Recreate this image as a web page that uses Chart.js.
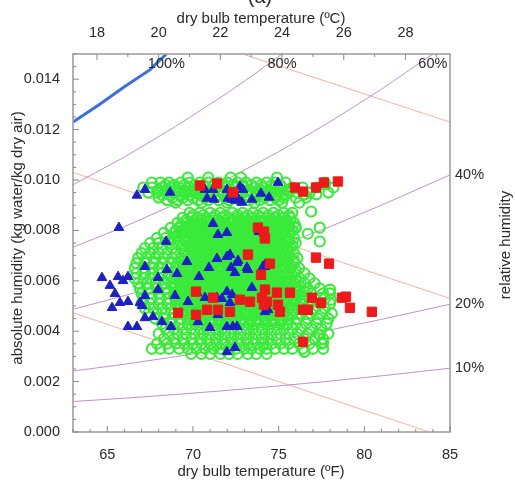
<!DOCTYPE html>
<html lang="en">
<head>
<meta charset="UTF-8">
<title>Psychrometric scatter</title>
<script src="https://cdn.jsdelivr.net/npm/chart.js"></script>
<style>
  body { margin: 0; background: #fff; }
  #wrap { width: 515px; height: 487px; position: relative; }
</style>
</head>
<body>
<div id="wrap"><canvas id="chart"></canvas></div>
<script>
// axis ticks
const fTicks = [65, 70, 75, 80, 85];
const cTicks = [18, 20, 22, 24, 26, 28];
const wTicks = [0, 0.002, 0.004, 0.006, 0.008, 0.010, 0.012, 0.014];

// relative humidity curves (dry bulb in F, humidity ratio)
const rh100T = [63, 64.5, 66, 67.5, 68.45];
const rh100W = [0.0123, 0.01298, 0.0137, 0.01438, 0.015];
const rh80T = [63, 66, 69, 72, 73.5, 75.2];
const rh80W = [0.00981, 0.01091, 0.01213, 0.01345, 0.01416, 0.015];
const rh60T = [63, 66, 69, 72, 75, 78, 81, 84];
const rh60W = [0.00733, 0.00815, 0.00905, 0.01003, 0.01112, 0.01231, 0.0136, 0.015];
const rh40T = [63, 66, 69, 72, 75, 78, 81, 85];
const rh40W = [0.00487, 0.00541, 0.006, 0.00665, 0.00737, 0.00815, 0.009, 0.0102];
const rh20T = [63, 66, 69, 72, 75, 78, 81, 85];
const rh20W = [0.00242, 0.00269, 0.00299, 0.00331, 0.00366, 0.00405, 0.00447, 0.00507];
const rh10T = [63, 66, 69, 72, 75, 78, 81, 85];
const rh10W = [0.00121, 0.00134, 0.00149, 0.00165, 0.00183, 0.00202, 0.00223, 0.00253];

// the three orange straight lines
const lineAT = [72.9, 85], lineAW = [0.015, 0.0123];
const lineBT = [63, 85], lineBW = [0.0103, 0.0053];
const lineCT = [63, 83.8], lineCW = [0.00473, 0];

// green circles, row by row (humidity of the row, temperatures along it)
const greenRowW = [0.0101, 0.0099, 0.0097, 0.0095, 0.0093, 0.0091,
  0.0087, 0.0085, 0.0083, 0.0081, 0.0079, 0.0077, 0.0075, 0.0073, 0.0071, 0.0069,
  0.0067, 0.0065, 0.0063, 0.0061, 0.0059, 0.0057, 0.0055, 0.0053, 0.0051, 0.0049,
  0.0047, 0.0045, 0.0043, 0.0041, 0.0039, 0.0037, 0.0035, 0.0033, 0.0031];
const greenRowT = [
  [69.7, 70.9, 72.2, 72.8, 74.9],
  [67.6, 68.1, 68.6, 69.3, 69.8, 70.4, 70.9, 71.5, 72.0, 72.6, 73.1, 73.7, 74.3, 74.8, 75.4, 77.7],
  [67.1, 67.6, 68.2, 68.7, 69.2, 69.8, 70.3, 70.8, 71.4, 71.9, 72.5, 73.0, 73.6, 74.1, 74.7, 75.2, 75.8, 76.4, 77.2, 78.2],
  [67.4, 67.9, 68.5, 69.0, 69.6, 70.1, 70.6, 71.2, 71.7, 72.3, 72.8, 73.4, 73.9, 74.5, 75.0, 75.6, 76.1, 76.8, 77.9],
  [68.0, 68.8, 69.4, 70.0, 70.7, 71.3, 71.9, 72.4, 73.0, 73.6, 74.2, 74.8, 75.3, 76.0, 76.6],
  [69.0, 70.5, 72.0, 73.6, 75.2, 76.2],
  [69.8, 70.4, 71.0, 71.6, 72.3, 72.9, 73.5, 74.1, 74.7, 75.3, 75.8],
  [69.4, 69.9, 70.3, 70.8, 71.2, 71.7, 72.1, 72.6, 73.0, 73.5, 73.9, 74.4, 74.8, 75.3, 75.7],
  [69.1, 69.6, 70.0, 70.5, 70.9, 71.4, 71.8, 72.3, 72.7, 73.2, 73.6, 74.1, 74.5, 75.0, 75.4, 75.9],
  [68.7, 69.2, 69.7, 70.1, 70.6, 71.0, 71.5, 71.9, 72.4, 72.8, 73.3, 73.7, 74.2, 74.6, 75.1, 75.5, 76.0],
  [68.3, 68.9, 69.4, 69.8, 70.3, 70.7, 71.2, 71.6, 72.1, 72.5, 73.0, 73.4, 73.9, 74.3, 74.8, 75.2, 75.7],
  [67.9, 68.4, 68.9, 69.5, 70.0, 70.4, 70.9, 71.3, 71.8, 72.2, 72.7, 73.1, 73.6, 74.0, 74.5, 74.9, 75.4, 75.9],
  [67.5, 68.0, 68.6, 69.1, 69.7, 70.1, 70.6, 71.0, 71.5, 71.9, 72.4, 72.8, 73.3, 73.7, 74.2, 74.6, 75.1, 75.5, 76.0],
  [67.2, 67.7, 68.2, 68.8, 69.3, 69.8, 70.3, 70.7, 71.2, 71.6, 72.1, 72.5, 73.0, 73.4, 73.9, 74.3, 74.8, 75.2, 75.7],
  [67.0, 67.5, 68.0, 68.5, 69.0, 69.5, 70.0, 70.4, 70.9, 71.3, 71.8, 72.2, 72.7, 73.1, 73.6, 74.0, 74.5, 74.9, 75.4, 75.9],
  [66.8, 67.3, 67.8, 68.3, 68.8, 69.3, 69.8, 70.2, 70.7, 71.1, 71.6, 72.0, 72.5, 72.9, 73.4, 73.8, 74.3, 74.7, 75.2, 75.6, 76.1],
  [66.7, 67.2, 67.7, 68.2, 68.7, 69.1, 69.6, 70.0, 70.5, 70.9, 71.4, 71.8, 72.3, 72.7, 73.2, 73.6, 74.1, 74.5, 75.0, 75.4, 75.9],
  [66.6, 67.1, 67.6, 68.0, 68.5, 69.0, 69.4, 69.9, 70.3, 70.8, 71.2, 71.7, 72.1, 72.6, 73.0, 73.5, 73.9, 74.4, 74.8, 75.3, 75.7, 76.2],
  [66.7, 67.2, 67.7, 68.2, 68.6, 69.1, 69.6, 70.1, 70.5, 71.0, 71.4, 71.9, 72.3, 72.8, 73.2, 73.7, 74.1, 74.6, 75.0, 75.5, 75.9, 76.5],
  [66.6, 67.1, 67.5, 68.0, 68.5, 68.9, 69.4, 69.8, 70.3, 70.7, 71.2, 71.6, 72.1, 72.5, 73.0, 73.4, 73.9, 74.3, 74.8, 75.2, 75.7, 76.2, 76.8],
  [66.8, 67.3, 67.8, 68.3, 68.7, 69.2, 69.6, 70.1, 70.5, 71.0, 71.4, 71.9, 72.3, 72.8, 73.2, 73.7, 74.1, 74.6, 75.0, 75.5, 75.9, 76.5, 77.1],
  [66.9, 67.4, 67.9, 68.4, 68.9, 69.3, 69.8, 70.2, 70.7, 71.1, 71.6, 72.0, 72.5, 72.9, 73.4, 73.8, 74.3, 74.7, 75.2, 75.6, 76.1, 76.7, 77.4],
  [67.0, 67.5, 68.0, 68.5, 69.0, 69.5, 69.9, 70.4, 70.8, 71.3, 71.7, 72.2, 72.6, 73.1, 73.5, 74.0, 74.4, 74.9, 75.3, 75.8, 76.3, 76.9, 77.6, 78.0],
  [67.1, 67.6, 68.1, 68.6, 69.1, 69.6, 70.1, 70.5, 71.0, 71.4, 71.9, 72.3, 72.8, 73.2, 73.7, 74.1, 74.6, 75.0, 75.5, 76.0, 76.5, 77.1, 77.7],
  [67.0, 67.5, 68.0, 68.5, 69.0, 69.5, 70.0, 70.4, 70.9, 71.3, 71.8, 72.2, 72.7, 73.1, 73.6, 74.0, 74.5, 74.9, 75.4, 75.8, 76.3, 76.8, 77.4, 78.0],
  [67.2, 67.7, 68.2, 68.7, 69.2, 69.7, 70.2, 70.6, 71.1, 71.5, 72.0, 72.4, 72.9, 73.3, 73.8, 74.2, 74.7, 75.1, 75.6, 76.1, 76.6, 77.1, 77.7],
  [67.4, 67.9, 68.4, 68.9, 69.4, 69.9, 70.3, 70.8, 71.2, 71.7, 72.1, 72.6, 73.0, 73.5, 73.9, 74.4, 74.8, 75.3, 75.8, 76.3, 76.9, 77.5, 78.1],
  [67.8, 68.3, 68.8, 69.3, 69.8, 70.2, 70.7, 71.1, 71.6, 72.0, 72.5, 72.9, 73.4, 73.8, 74.3, 74.7, 75.2, 75.6, 76.1, 76.7, 77.3, 77.9],
  [68.2, 68.7, 69.2, 69.7, 70.1, 70.6, 71.0, 71.5, 71.9, 72.4, 72.8, 73.3, 73.7, 74.2, 74.6, 75.1, 75.5, 76.0, 76.6, 77.2, 77.8],
  [68.4, 68.9, 69.4, 69.9, 70.4, 70.8, 71.3, 71.7, 72.2, 72.6, 73.1, 73.5, 74.0, 74.4, 74.9, 75.3, 75.8, 76.3, 76.9, 77.5],
  [68.0, 68.6, 69.1, 69.6, 70.1, 70.6, 71.0, 71.5, 71.9, 72.4, 72.8, 73.3, 73.7, 74.2, 74.6, 75.1, 75.6, 76.1, 76.7, 77.3, 77.9],
  [68.3, 68.9, 69.4, 69.9, 70.4, 70.8, 71.3, 71.7, 72.2, 72.6, 73.1, 73.5, 74.0, 74.4, 74.9, 75.4, 75.9, 76.5, 77.1, 77.6],
  [67.9, 68.5, 69.0, 69.5, 70.0, 70.5, 71.0, 71.4, 71.9, 72.3, 72.8, 73.2, 73.7, 74.1, 74.6, 75.1, 75.6, 76.2, 76.8, 77.5],
  [67.6, 68.1, 68.6, 69.2, 69.7, 70.2, 70.7, 71.2, 71.6, 72.1, 72.5, 73.0, 73.4, 73.9, 74.3, 74.8, 75.3, 75.8, 76.4, 77.0, 77.6],
  [69.9, 70.5, 71.0, 71.6, 72.1, 72.6, 73.2, 73.7, 74.3]
];
// the dense middle of both clusters, rows between the ones above
const greenCoreW = [0.0098, 0.0096, 0.0094, 0.0092,
  0.0086, 0.0084, 0.0082, 0.0080, 0.0078, 0.0076, 0.0074, 0.0072, 0.0070, 0.0068, 0.0066,
  0.0064, 0.0062, 0.0060, 0.0058, 0.0056, 0.0054, 0.0052, 0.0050, 0.0048, 0.0046, 0.0044];
const greenCoreT = [
  [68.4, 68.9, 69.5, 70.1, 70.6, 71.2, 71.7, 72.3, 72.9, 73.4, 74.0, 74.6, 75.1],
  [68.0, 68.5, 69.0, 69.5, 70.0, 70.6, 71.1, 71.7, 72.2, 72.8, 73.3, 73.9, 74.4, 75.0, 75.5],
  [68.2, 68.7, 69.3, 69.8, 70.4, 70.9, 71.5, 72.0, 72.6, 73.1, 73.7, 74.2, 74.8, 75.3],
  [68.5, 69.1, 69.7, 70.3, 70.9, 71.5, 72.1, 72.7, 73.3, 73.9, 74.5, 75.0],
  [70.0, 70.6, 71.3, 71.9, 72.6, 73.2, 73.8, 74.4, 75.0, 75.6],
  [69.6, 70.1, 70.5, 71.0, 71.4, 71.9, 72.3, 72.8, 73.2, 73.7, 74.1, 74.6, 75.0, 75.5],
  [69.3, 69.8, 70.2, 70.7, 71.1, 71.6, 72.0, 72.5, 72.9, 73.4, 73.8, 74.3, 74.7, 75.2, 75.6],
  [69.0, 69.4, 69.9, 70.3, 70.8, 71.2, 71.7, 72.1, 72.6, 73.0, 73.5, 73.9, 74.4, 74.8, 75.3, 75.8],
  [69.1, 69.6, 70.0, 70.5, 70.9, 71.4, 71.8, 72.3, 72.7, 73.2, 73.6, 74.1, 74.5, 75.0, 75.4],
  [68.7, 69.2, 69.7, 70.2, 70.6, 71.1, 71.5, 72.0, 72.4, 72.9, 73.3, 73.8, 74.2, 74.7, 75.1, 75.6],
  [69.4, 69.9, 70.3, 70.8, 71.2, 71.7, 72.1, 72.6, 73.0, 73.5, 73.9, 74.4, 74.8, 75.3, 75.8],
  [69.5, 70.0, 70.5, 70.9, 71.4, 71.8, 72.3, 72.7, 73.2, 73.6, 74.1, 74.5, 75.0, 75.5],
  [69.7, 70.2, 70.6, 71.1, 71.5, 72.0, 72.4, 72.9, 73.3, 73.8, 74.2, 74.7, 75.1, 75.6],
  [69.5, 70.0, 70.4, 70.9, 71.3, 71.8, 72.2, 72.7, 73.1, 73.6, 74.0, 74.5, 74.9, 75.4, 75.9],
  [69.4, 69.8, 70.3, 70.7, 71.2, 71.6, 72.1, 72.5, 73.0, 73.4, 73.9, 74.3, 74.8, 75.2, 75.7],
  [69.3, 69.7, 70.2, 70.6, 71.1, 71.5, 72.0, 72.4, 72.9, 73.3, 73.8, 74.2, 74.7, 75.1, 75.6, 76.0],
  [69.4, 69.9, 70.3, 70.8, 71.2, 71.7, 72.1, 72.6, 73.0, 73.5, 73.9, 74.4, 74.8, 75.3, 75.8],
  [69.2, 69.6, 70.1, 70.5, 71.0, 71.4, 71.9, 72.3, 72.8, 73.2, 73.7, 74.1, 74.6, 75.0, 75.5, 76.0],
  [69.0, 69.4, 69.9, 70.3, 70.8, 71.2, 71.7, 72.1, 72.6, 73.0, 73.5, 73.9, 74.4, 74.8, 75.3, 75.7, 76.2],
  [69.1, 69.6, 70.0, 70.5, 70.9, 71.4, 71.8, 72.3, 72.7, 73.2, 73.6, 74.1, 74.5, 75.0, 75.5, 76.0, 76.5],
  [68.9, 69.3, 69.8, 70.2, 70.7, 71.1, 71.6, 72.0, 72.5, 72.9, 73.4, 73.8, 74.3, 74.7, 75.2, 75.7, 76.2],
  [69.0, 69.5, 69.9, 70.4, 70.8, 71.3, 71.7, 72.2, 72.6, 73.1, 73.5, 74.0, 74.4, 74.9, 75.3, 75.8, 76.3],
  [69.2, 69.7, 70.1, 70.6, 71.0, 71.5, 71.9, 72.4, 72.8, 73.3, 73.7, 74.2, 74.6, 75.1, 75.6, 76.1],
  [69.4, 69.9, 70.3, 70.8, 71.2, 71.7, 72.1, 72.6, 73.0, 73.5, 73.9, 74.4, 74.8, 75.3, 75.8],
  [69.6, 70.0, 70.5, 70.9, 71.4, 71.8, 72.3, 72.7, 73.2, 73.6, 74.1, 74.5, 75.0, 75.5],
  [70.1, 70.6, 71.0, 71.5, 71.9, 72.4, 72.8, 73.3, 73.7, 74.2, 74.6, 75.1]
];
// stray green circles
const greenXT = [76.9, 77.4, 76.7, 77.4, 76.0, 78.0, 78.05, 77.6, 77.4, 76.5, 76.5, 77.2, 77.7];
const greenXW = [0.00875, 0.00811, 0.00787, 0.00756, 0.00815, 0.00565, 0.00525, 0.00354, 0.00386, 0.00318, 0.00943, 0.00943, 0.00982];

// blue triangles
const blueT = [66.73, 67.2, 68.66, 70.7, 71.17, 70.82, 71.23, 71.98, 72.74, 72.92, 72.04, 72.28, 72.45, 72.63, 72.86, 73.44, 73.97, 74.44, 74.96,
  65.68, 71.17, 71.46, 71.98, 68.43, 73.85, 71.4, 71.98, 72.16, 72.63, 72.45, 72.22, 69.65, 68.48, 69.07, 70.93, 67.2, 70.35, 67.96,
  64.69, 65.63, 65.92, 66.21, 65.16, 65.45, 73.21, 74.2, 73.44, 65.28, 65.74, 66.21, 66.91, 67.2, 67.03, 66.21, 66.73, 67.2, 67.67,
  68.19, 68.72, 67.96, 68.95, 69.71, 70.23, 70.7, 70.29, 70.99, 71.4, 71.46, 71.69, 71.98, 72.16, 71.98, 72.33, 72.57, 71.98, 72.45,
  74.2, 73.15, 74.38, 74.08, 74.2, 72.57, 72.28];
const blueW = [0.00939, 0.00962, 0.00951, 0.00962, 0.00962, 0.00927, 0.00923, 0.00962, 0.00974, 0.00962, 0.00927, 0.00923, 0.00919, 0.00927, 0.00911, 0.00923, 0.00947, 0.00931, 0.0099,
  0.00811, 0.00827, 0.00783, 0.00791, 0.00756, 0.00795, 0.00688, 0.00696, 0.00704, 0.0068, 0.00632, 0.00652, 0.00676, 0.00644, 0.00628, 0.00652, 0.00656, 0.00616, 0.00612,
  0.00612, 0.00616, 0.006, 0.00616, 0.00581, 0.00549, 0.00644, 0.00656, 0.00573, 0.00493, 0.00513, 0.00517, 0.00513, 0.00541, 0.00501, 0.00418, 0.00418, 0.00453, 0.00457,
  0.00437, 0.00418, 0.00565, 0.00541, 0.00517, 0.00553, 0.00533, 0.00437, 0.00414, 0.00533, 0.00465, 0.00529, 0.00557, 0.00513, 0.00418, 0.00418, 0.00418, 0.00318, 0.00334,
  0.00477, 0.00652, 0.00485, 0.00656, 0.00664, 0.00672, 0.00545];

// red squares
const redT = [70.41, 71.4, 72.33, 75.95, 76.42, 77.18, 77.64, 78.46,
  73.79, 74.14, 74.2, 73.21, 77.18, 77.94, 74.49, 73.97, 74.2, 74.9, 75.66, 72.74, 73.33, 74.03, 74.32, 74.96, 75.08, 72.16,
  76.42, 76.71, 76.94, 77.47, 78.69, 78.93, 79.16, 80.44, 76.42, 70.18, 71.17, 69.13, 70.18, 70.82, 71.46, 74.14];
const redW = [0.00978, 0.00986, 0.00951, 0.0097, 0.00954, 0.0097, 0.0099, 0.00994,
  0.00811, 0.00795, 0.00768, 0.00704, 0.00692, 0.00668, 0.00668, 0.00624, 0.00565, 0.00553, 0.00553, 0.00525, 0.00517, 0.00533, 0.00517, 0.00505, 0.00477, 0.00477,
  0.00485, 0.00485, 0.00533, 0.00513, 0.00533, 0.00537, 0.00493, 0.00477, 0.00358, 0.00557, 0.00533, 0.00473, 0.00465, 0.00485, 0.00485, 0.00505];

function pts(T, W) {
  return T.map((t, i) => ({ x: t, y: W[i] }));
}

let greenPts = [];
greenRowT.forEach((row, r) => {
  row.forEach(t => greenPts.push({ x: t, y: greenRowW[r] }));
});
greenCoreT.forEach((row, r) => {
  row.forEach(t => greenPts.push({ x: t, y: greenCoreW[r] }));
});
greenPts = greenPts.concat(pts(greenXT, greenXW));

const purple = '#bd93c6';
const orange = '#f4b0a0';
const font = 'Liberation Sans, Arial, sans-serif';

function curve(T, W, color, width) {
  return { data: pts(T, W), showLine: true, pointRadius: 0, borderColor: color, borderWidth: width, order: 5 };
}

const frame = {
  id: 'frame',
  afterDatasetsDraw(chart) {
    const { ctx, chartArea: a, scales } = chart;
    const x = scales.x, y = scales.y;
    ctx.save();
    ctx.strokeStyle = '#a0a0a0';
    ctx.lineWidth = 1.6;
    ctx.strokeRect(a.left, a.top, a.right - a.left, a.bottom - a.top);
    ctx.lineWidth = 1;
    ctx.strokeStyle = '#888';
    ctx.beginPath();
    for (let f = 63; f <= 85; f++) {
      const px = x.getPixelForValue(f);
      const len = fTicks.includes(f) ? 6 : 3;
      ctx.moveTo(px, a.bottom); ctx.lineTo(px, a.bottom - len);
    }
    for (let c = 18; c <= 29; c++) {
      const px = x.getPixelForValue(c * 9 / 5 + 32);
      const len = cTicks.includes(c) ? 6 : 3;
      ctx.moveTo(px, a.top); ctx.lineTo(px, a.top + len);
    }
    for (let k = 0; k <= 30; k++) {
      const py = y.getPixelForValue(k * 0.0005);
      const len = k % 4 === 0 ? 6 : 3;
      ctx.moveTo(a.left, py); ctx.lineTo(a.left + len, py);
    }
    ctx.stroke();

    ctx.fillStyle = '#2a2a2a';
    ctx.font = '15px ' + font;
    ctx.textAlign = 'center';
    ctx.textBaseline = 'middle';
    ctx.fillText('dry bulb temperature (ºF)', 261, 472);
    ctx.fillText('dry bulb temperature (ºC)', 261, 19);
    ctx.save();
    ctx.translate(18, 238);
    ctx.rotate(-Math.PI / 2);
    ctx.fillText('absolute humidity (kg water/kg dry air)', 0, 0);
    ctx.restore();
    ctx.save();
    ctx.translate(506, 245);
    ctx.rotate(-Math.PI / 2);
    ctx.fillText('relative humidity', 0, 0);
    ctx.restore();

    ctx.font = '20px ' + font;
    ctx.textBaseline = 'alphabetic';
    ctx.fillText('(a)', 260, 3);

    // labels where the humidity curves leave the frame
    ctx.font = '14.5px ' + font;
    ctx.textBaseline = 'middle';
    const topLab = [['100%', rh100T], ['80%', rh80T], ['60%', rh60T]];
    topLab.forEach(([s, T]) => {
      ctx.fillText(s, x.getPixelForValue(T[T.length - 1]), a.top + 10);
    });
    ctx.textAlign = 'left';
    const sideLab = [['40%', rh40W], ['20%', rh20W], ['10%', rh10W]];
    sideLab.forEach(([s, W]) => {
      ctx.fillText(s, a.right + 5, y.getPixelForValue(W[W.length - 1]));
    });
    ctx.restore();
  }
};

const tickFont = { family: font, size: 14.5 };

new Chart(document.getElementById('chart'), {
  type: 'scatter',
  data: {
    datasets: [
      { data: pts(redT, redW), pointStyle: 'rect', pointRadius: 6.6, backgroundColor: '#ec1a1a', borderColor: '#ec1a1a', borderWidth: 1, order: 0 },
      { data: pts(blueT, blueW), pointStyle: 'triangle', pointRadius: 5.6, backgroundColor: '#1d20c4', borderColor: '#1d20c4', borderWidth: 1, order: 1 },
      { data: greenPts, pointStyle: 'circle', pointRadius: 5, backgroundColor: 'rgba(0,0,0,0)', borderColor: '#3aea3a', borderWidth: 2.1, order: 2 },
      curve(rh100T, rh100W, '#3a6fe0', 3),
      curve(rh80T, rh80W, purple, 1),
      curve(rh60T, rh60W, purple, 1),
      curve(rh40T, rh40W, purple, 1),
      curve(rh20T, rh20W, purple, 1),
      curve(rh10T, rh10W, purple, 1),
      curve(lineAT, lineAW, orange, 1),
      curve(lineBT, lineBW, orange, 1),
      curve(lineCT, lineCW, orange, 1)
    ]
  },
  options: {
    responsive: true,
    maintainAspectRatio: false,
    animation: false,
    events: [],
    layout: { padding: { right: 65 } },
    plugins: { legend: { display: false }, tooltip: { enabled: false } },
    scales: {
      x: {
        type: 'linear', position: 'bottom', min: 63, max: 85,
        grid: { display: false }, border: { display: false },
        afterBuildTicks: s => { s.ticks = fTicks.map(v => ({ value: v })); },
        afterFit: s => { s.height = 55; },
        ticks: { font: tickFont, color: '#2a2a2a', padding: 6, autoSkip: false, maxRotation: 0 }
      },
      x2: {
        type: 'linear', position: 'top', min: 63, max: 85,
        grid: { display: false }, border: { display: false },
        afterBuildTicks: s => { s.ticks = cTicks.map(c => ({ value: c * 9 / 5 + 32 })); },
        afterFit: s => { s.height = 54; },
        ticks: { font: tickFont, color: '#2a2a2a', padding: 4, autoSkip: false, maxRotation: 0,
          callback: v => String(Math.round((v - 32) * 5 / 9)) }
      },
      y: {
        type: 'linear', position: 'left', min: 0, max: 0.015,
        grid: { display: false }, border: { display: false },
        afterBuildTicks: s => { s.ticks = wTicks.map(v => ({ value: v })); },
        afterFit: s => { s.width = 73; },
        ticks: { font: tickFont, color: '#2a2a2a', padding: 5, autoSkip: false,
          callback: v => v.toFixed(3) }
      }
    }
  },
  plugins: [frame]
});
</script>
</body>
</html>
